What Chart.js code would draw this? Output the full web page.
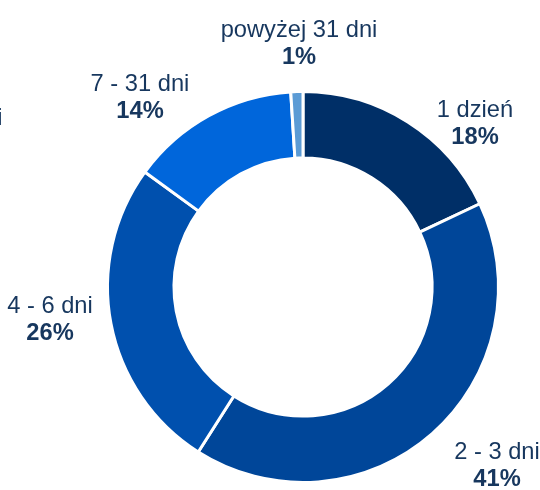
<!DOCTYPE html>
<html>
<head>
<meta charset="utf-8">
<script src="https://cdn.jsdelivr.net/npm/chart.js@4"></script>
<style>
  html, body { margin: 0; padding: 0; background: #fff; }
  #wrap { width: 540px; height: 490px; }
</style>
</head>
<body>
<div id="wrap"><canvas id="myChart" width="540" height="490"></canvas></div>
<script>
// data block
const categories = ["1 dzień", "2 - 3 dni", "4 - 6 dni", "7 - 31 dni", "powyżej 31 dni"];
const shares = [18, 41, 26, 14, 1];

// style block
const sliceColors = ["#002F67", "#004699", "#0050AE", "#0066DB", "#5B9BD5"];
const textColor = "#17375E";
// label offsets from the doughnut centre (first line baseline)
const labelOffsets = [
  [172, -170],
  [194, 172],
  [-253, 26],
  [-163, -196],
  [-4, -250],
];

// plugin - outside labels (name + bold percent)
const outsideLabels = {
  id: "outsideLabels",
  afterDraw(chart) {
    const ctx = chart.ctx;
    const arc = chart.getDatasetMeta(0).data[0];
    const cx = arc.x;
    const cy = arc.y;
    ctx.save();
    ctx.fillStyle = textColor;
    ctx.textAlign = "center";
    ctx.textBaseline = "alphabetic";
    categories.forEach((name, i) => {
      const x = cx + labelOffsets[i][0];
      const y = cy + labelOffsets[i][1];
      ctx.font = "23.7px 'Liberation Sans', Arial, sans-serif";
      ctx.fillText(name, x, y);
      ctx.font = "bold 23.7px 'Liberation Sans', Arial, sans-serif";
      ctx.fillText(shares[i] + "%", x, y + 27);
    });
    // label of a neighbouring chart, cut by the left edge
    ctx.font = "23.7px 'Liberation Sans', Arial, sans-serif";
    ctx.textAlign = "right";
    ctx.fillText("dni", 2.5, 125);
    ctx.restore();
  },
};

// config block
const config = {
  type: "doughnut",
  data: {
    labels: categories,
    datasets: [
      {
        data: shares,
        backgroundColor: sliceColors,
        borderColor: "#ffffff",
        borderWidth: 3,
      },
    ],
  },
  options: {
    responsive: false,
    animation: false,
    cutout: "66%",
    layout: {
      padding: { left: 106, right: 40, top: 90, bottom: 6 },
    },
    plugins: {
      legend: { display: false },
      tooltip: { enabled: false },
    },
  },
  plugins: [outsideLabels],
};

// render init block
const myChart = new Chart(document.getElementById("myChart"), config);
</script>
</body>
</html>
